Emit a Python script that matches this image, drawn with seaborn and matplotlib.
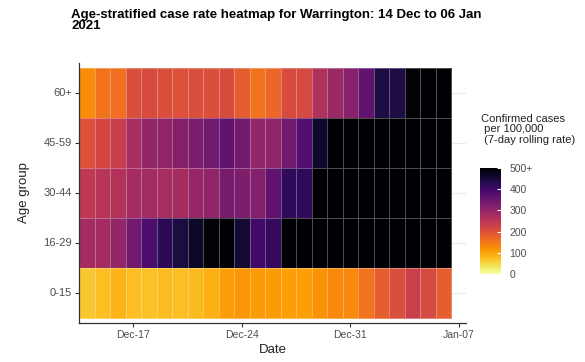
import numpy as np
import pandas as pd
import matplotlib
matplotlib.use("Agg")
import matplotlib.pyplot as plt
import seaborn as sns

# ---- data ----
start_date = "2020-12-14"
end_date = "2021-01-06"
age_groups = ["60+", "45-59", "30-44", "16-29", "0-15"]
rate_60plus = [125, 155, 160, 205, 210, 205, 200, 205, 205, 208, 185, 155, 170, 210, 212, 265, 290, 315, 365, 440, 440, 495, 520, 520]
rate_45_59 = [200, 215, 232, 275, 300, 305, 320, 328, 340, 365, 340, 300, 305, 340, 380, 460, 560, 580, 600, 610, 620, 620, 610, 600]
rate_30_44 = [245, 255, 260, 278, 282, 276, 278, 298, 303, 335, 327, 320, 365, 420, 420, 520, 560, 600, 620, 640, 650, 640, 630, 620]
rate_16_29 = [278, 278, 300, 340, 385, 425, 445, 465, 495, 510, 455, 400, 415, 505, 560, 620, 680, 720, 760, 780, 790, 780, 760, 740]
rate_0_15 = [65, 75, 85, 75, 72, 77, 75, 80, 88, 108, 115, 110, 110, 107, 107, 120, 130, 130, 155, 180, 205, 230, 212, 182]
tick_dates = ["2020-12-17", "2020-12-24", "2020-12-31", "2021-01-07"]
tick_labels = ["Dec-17", "Dec-24", "Dec-31", "Jan-07"]
cbar_ticks = [0, 100, 200, 300, 400, 500]
cbar_labels = ["0", "100", "200", "300", "400", "500+"]

dates = pd.date_range(start_date, end_date)
df = pd.DataFrame([rate_60plus, rate_45_59, rate_30_44, rate_16_29, rate_0_15],
                  index=age_groups, columns=dates)
df_plot = df.clip(upper=500)

plt.rcParams['font.family'] = ['Liberation Sans', 'DejaVu Sans']

fig = plt.figure(figsize=(5.85, 3.62), dpi=100)
ax = fig.add_axes([79/585, 39/362, (466-79)/585, (323-63)/362])
cax = fig.add_axes([480/585, 88/362, 21/585, 106/362])

ax.set_axisbelow(True)
ax.yaxis.grid(True, color="#ebebeb", linewidth=0.8)
sns.heatmap(df_plot, ax=ax, cbar_ax=cax, cmap="inferno_r", vmin=0, vmax=500,
            linewidths=0.6, linecolor=(1, 1, 1, 0.3),
            cbar_kws={"ticks": cbar_ticks})

# x axis
tick_pos = [(pd.Timestamp(d) - dates[0]).days + 0.5 for d in tick_dates]
ax.set_xticks(tick_pos)
ax.set_xticklabels(tick_labels, rotation=0, fontsize=7.5, color="#4d4d4d")
ax.set_xlim(0, len(dates) + 0.96)
ax.set_ylim(len(age_groups) + 0.1, -0.1)
ax.set_yticks(np.arange(len(age_groups)) + 0.5)
ax.set_yticklabels(age_groups, rotation=0, fontsize=8, color="#4d4d4d")
ax.tick_params(axis="both", length=3, width=0.8, color="#333333", pad=2)
for s in ["left", "bottom"]:
    ax.spines[s].set_visible(True)
    ax.spines[s].set_color("#333333")
    ax.spines[s].set_linewidth(0.9)
ax.set_xlabel("Date", fontsize=9.5, color="#222222", labelpad=3)
ax.set_ylabel("Age group", fontsize=9.5, color="#222222", labelpad=10)

# colorbar
cax.set_yticklabels(cbar_labels)
cax.tick_params(labelsize=7.5, length=3, color="white", direction="in", pad=6, labelcolor="#4d4d4d")
for s in cax.spines.values():
    s.set_visible(False)

fig.text(481/585, 1 - 114/362, "Confirmed cases\n per 100,000\n (7-day rolling rate)",
         fontsize=8, color="#222222", ha="left", va="top", linespacing=1.05)

fig.text(71/585, 1 - 9/362,
         "Age-stratified case rate heatmap for Warrington: 14 Dec to 06 Jan\n2021",
         fontsize=9.5, fontweight="bold", ha="left", va="top", linespacing=0.85)

fig.savefig("out.png", dpi=100)
